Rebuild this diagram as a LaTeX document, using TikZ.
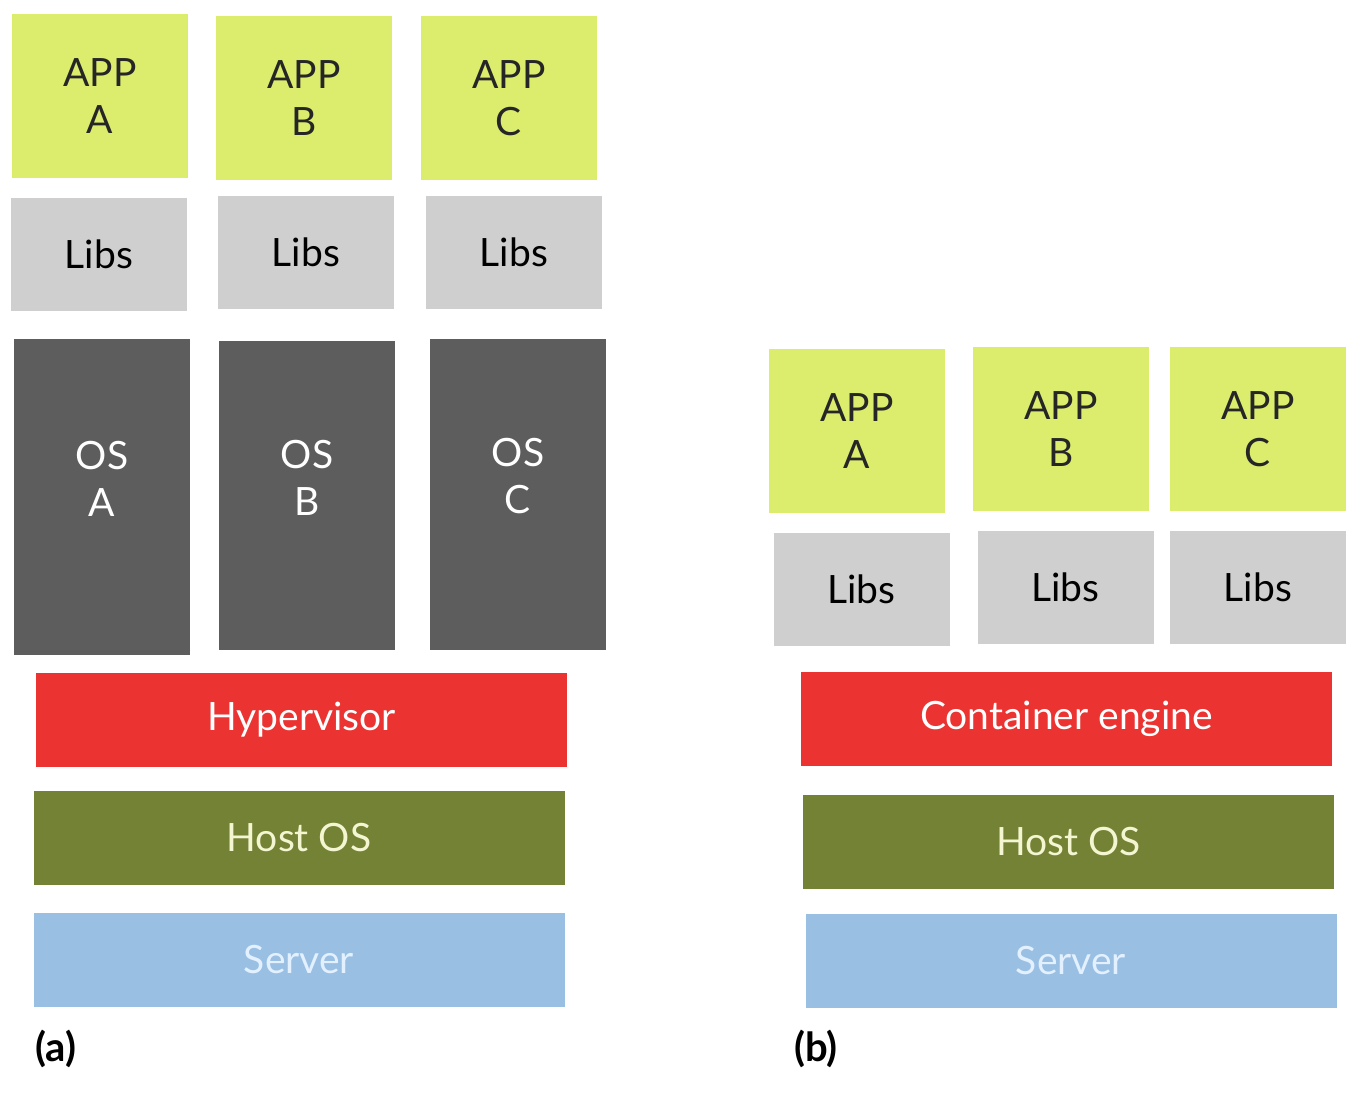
\documentclass[tikz,border=0pt]{standalone}
\usepackage{fontspec}
\setmainfont{Lato}
\usetikzlibrary{positioning}
\definecolor{appgreen}{HTML}{DCEC6C}
\definecolor{libgray}{HTML}{CFCFCF}
\definecolor{osgray}{HTML}{5D5D5D}
\definecolor{hypred}{HTML}{EB3331}
\definecolor{hostolive}{HTML}{748236}
\definecolor{serverblue}{HTML}{99BFE3}
\definecolor{hosttext}{HTML}{F4F6D2}
\definecolor{servertext}{HTML}{E2F0FF}

\begin{document}
\begin{tikzpicture}[x=0.5pt,y=-0.5pt,inner sep=0pt,
                    font=\fontsize{19.5}{23.5}\selectfont]
  \tikzstyle{block}=[rectangle,draw=none,align=center]
  \tikzstyle{app}=[block,fill=appgreen,text=black!85,minimum width=88pt,minimum height=82pt]
  \tikzstyle{libs}=[block,fill=libgray,text=black,minimum width=88pt,minimum height=56.5pt]
  \tikzstyle{os}=[block,fill=osgray,minimum width=88pt]
  \tikzstyle{ostext}=[align=center,text=white,yshift=9pt]
  \tikzstyle{layer}=[block,minimum width=265.5pt,minimum height=47pt]
  \tikzstyle{caption}=[font=\fontsize{20}{23.5}\selectfont\bfseries,text=black]

  \useasboundingbox[fill=white] (0,0) rectangle (1356,1094);

  % (a) virtual machines
  \node[app]  (appA)    at (100,96)    {APP\\A};
  \node[app]  (appB)    at (304,98)    {APP\\B};
  \node[app]  (appC)    at (509,98)    {APP\\C};
  \node[libs] (libsA)   at (99,254)    {Libs};
  \node[libs] (libsB)   at (306,252)   {Libs};
  \node[libs] (libsC)   at (514,252)   {Libs};
  \node[os,minimum height=158pt,label={[ostext]center:{OS\\A}}]   (osA) at (102,497)   {};
  \node[os,minimum height=154.5pt,label={[ostext]center:{OS\\B}}] (osB) at (307,495.5) {};
  \node[os,minimum height=155.5pt,label={[ostext]center:{OS\\C}}] (osC) at (518,494.5) {};
  \node[layer,fill=hypred,text=white]         (hyper)   at (301.5,719.5) {Hypervisor};
  \node[layer,fill=hostolive,text=hosttext]   (hostA)   at (299,838)     {Host OS};
  \node[layer,fill=serverblue,text=servertext](serverA) at (299,960)     {Server};
  \node[caption] (capA) at (56,1049) {(a)};

  % (b) containers
  \node[app]  (appA2)   at (857,431)   {APP\\A};
  \node[app]  (appB2)   at (1061,429)  {APP\\B};
  \node[app]  (appC2)   at (1258,429)  {APP\\C};
  \node[libs] (libsA2)  at (861.5,589.5) {Libs};
  \node[libs] (libsB2)  at (1065.5,587.5){Libs};
  \node[libs] (libsC2)  at (1258,587.5)  {Libs};
  \node[layer,fill=hypred,text=white]         (engine)  at (1066.5,719) {Container engine};
  \node[layer,fill=hostolive,text=hosttext]   (hostB)   at (1068.5,842) {Host OS};
  \node[layer,fill=serverblue,text=servertext](serverB) at (1071,961)   {Server};
  \node[caption] (capB) at (816,1049) {(b)};
\end{tikzpicture}
\end{document}
